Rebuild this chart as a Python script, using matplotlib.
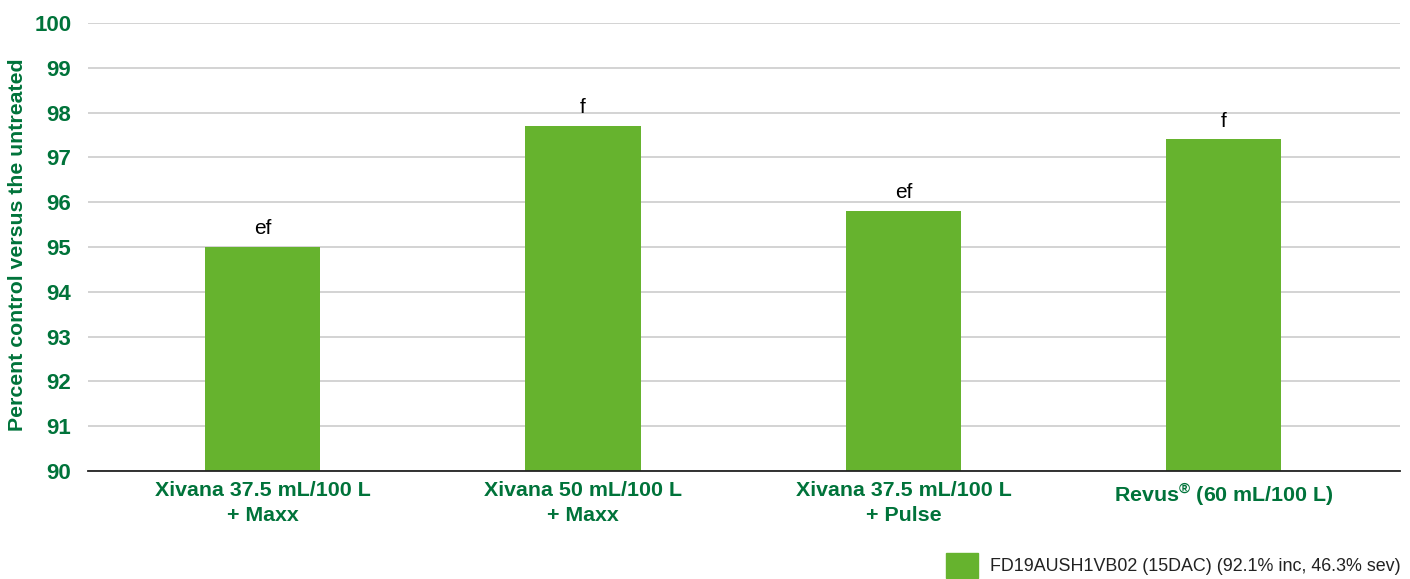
import matplotlib
matplotlib.use("Agg")
import matplotlib.pyplot as plt
from matplotlib.patches import Patch

categories = ["Xivana 37.5 mL/100 L\n+ Maxx", "Xivana 50 mL/100 L\n+ Maxx",
              "Xivana 37.5 mL/100 L\n+ Pulse", r"Revus$^{\mathbf{®}}$ (60 mL/100 L)"]
values = [95.0, 97.7, 95.8, 97.4]
letters = ["ef", "f", "ef", "f"]
series_name = "FD19AUSH1VB02 (15DAC) (92.1% inc, 46.3% sev)"
yticks = list(range(90, 101))

GREEN_BAR = "#66b32e"
GREEN_TXT = "#00733a"

plt.rcParams['font.family'] = ['Liberation Sans', 'DejaVu Sans']
plt.rcParams['mathtext.fontset'] = 'custom'
plt.rcParams['mathtext.rm'] = 'Liberation Sans'
plt.rcParams['mathtext.bf'] = 'Liberation Sans:bold'

fig = plt.figure(figsize=(14.1, 5.79), dpi=100)
ax = fig.add_axes([88/1410, 1 - 471/579, (1400-88)/1410, (471-23)/579])

x = list(range(len(categories)))
ax.bar(x, [v - 90 for v in values], bottom=90, width=0.36, color=GREEN_BAR, zorder=3)
for xi, v, l in zip(x, values, letters):
    ax.text(xi, v + 0.2, l, ha='center', va='bottom', fontsize=15, color='black')

ax.set_ylim(90, 100)
ax.set_xlim(-0.545, 3.55)
ax.set_yticks(yticks)
ax.set_yticklabels([str(t) for t in yticks], fontsize=16, fontweight='bold', color=GREEN_TXT)
ax.set_xticks(x)
ax.set_xticklabels(categories, fontsize=15.4, fontweight='bold', color=GREEN_TXT, linespacing=1.45)
ax.tick_params(axis='both', length=0)
ax.tick_params(axis='y', pad=12)
ax.tick_params(axis='x', pad=7)
ax.yaxis.grid(True, color='#cccccc', linewidth=1.2, zorder=0)
for s in ['top', 'right', 'left']:
    ax.spines[s].set_visible(False)
ax.spines['bottom'].set_color('#222222')
ax.spines['bottom'].set_linewidth(1.3)
ax.spines['bottom'].set_zorder(4)

fig.text(18/1410, 1 - 245/579, "Percent control versus the untreated", rotation=90,
         ha='center', va='center', fontsize=15.3, fontweight='bold', color=GREEN_TXT)

leg = fig.legend(handles=[Patch(color=GREEN_BAR, label=series_name)],
                 loc='lower right', bbox_to_anchor=(1401/1410, 1/579), frameon=False,
                 fontsize=12.9, handlelength=1.78, handleheight=1.8, handletextpad=0.67,
                 borderpad=0.0, borderaxespad=0.0)
for t in leg.get_texts():
    t.set_color('#222222')

fig.savefig("out.png", dpi=100)
